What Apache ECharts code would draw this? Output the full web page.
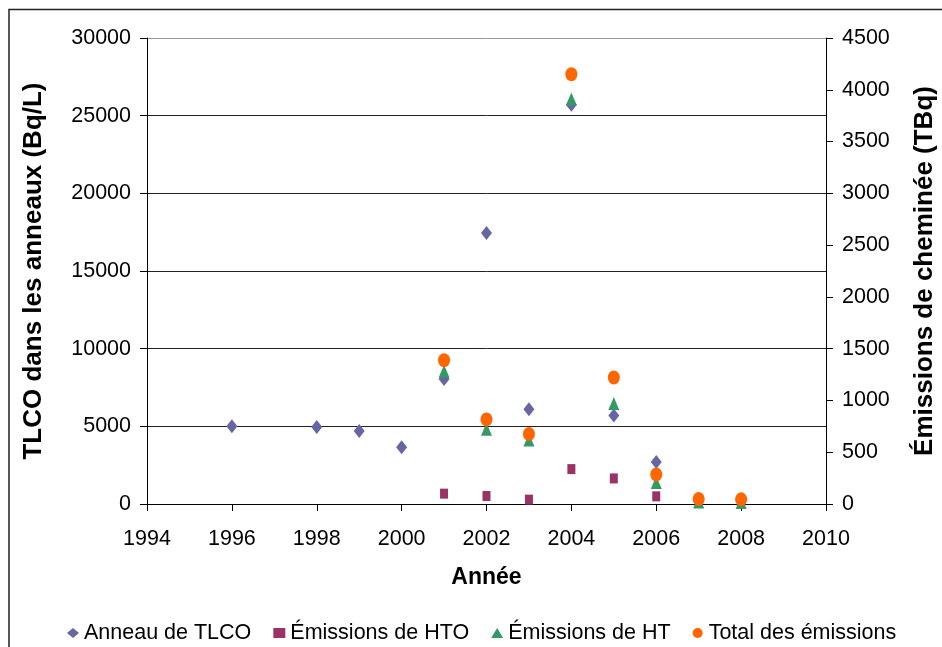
<!DOCTYPE html>
<html>
<head>
<meta charset="utf-8">
<script src="https://cdn.jsdelivr.net/npm/echarts@6/dist/echarts.min.js"></script>
<style>
html,body{margin:0;padding:0;background:#fff;}
#chart{width:942px;height:647px;}
</style>
</head>
<body>
<div id="chart"></div>
<script>
// TLCO ring measurements (left axis, Bq/L)
var tlcoYears = [1996, 1998, 1999, 2000, 2001, 2002, 2003, 2004, 2005, 2006];
var tlcoValues = [5000, 4950, 4700, 3650, 8050, 17450, 6100, 25700, 5700, 2700];
// Stack emissions (right axis, TBq)
var emYears = [2001, 2002, 2003, 2004, 2005, 2006, 2007, 2008];
var htoValues = [100, 77, 42, 337, 247, 74, 10, 6];
var htValues = [1282, 721, 619, 3910, 971, 208, 20, 15];
var totalValues = [1388, 817, 676, 4150, 1221, 285, 48, 45];
var seriesNames = ['Anneau de TLCO', 'Émissions de HTO', 'Émissions de HT', 'Total des émissions'];

function pairs(xs, ys) { return xs.map(function (x, i) { return [x, ys[i]]; }); }
function plain(v) { return String(v); }

var FONT = '"Liberation Sans", Arial, sans-serif';
var chart = echarts.init(document.getElementById('chart'));
chart.setOption({
  animation: false,
  backgroundColor: '#fff',
  textStyle: { fontFamily: FONT, color: '#000' },
  graphic: [{
    type: 'rect', z: -10, silent: true,
    shape: { x: 9, y: 9.5, width: 1000, height: 1000 },
    style: { fill: 'none', stroke: '#222', lineWidth: 1.5 }
  }],
  grid: { left: 147, right: 116, top: 38, bottom: 143, containLabel: false, outerBoundsMode: 'none' },
  legend: {
    top: 617, left: 62,
    itemWidth: 12, itemHeight: 10, itemGap: 22,
    textStyle: { fontFamily: FONT, fontSize: 21.5, color: '#000' },
    data: seriesNames
  },
  xAxis: {
    type: 'value', min: 1994, max: 2010, interval: 2,
    name: 'Année', nameLocation: 'middle', nameGap: 62,
    nameTextStyle: { fontFamily: FONT, fontSize: 23, fontWeight: 'bold', color: '#000' },
    axisLine: { show: true, onZero: false, lineStyle: { color: '#000', width: 1 } },
    axisTick: { show: true, length: 7, lineStyle: { color: '#000' } },
    axisLabel: { fontFamily: FONT, fontSize: 21.5, color: '#000', margin: 24, formatter: plain },
    splitLine: { show: false }
  },
  yAxis: [{
    type: 'value', min: 0, max: 30000, interval: 5000, position: 'left',
    name: 'TLCO dans les anneaux (Bq/L)', nameLocation: 'middle', nameGap: 100, nameRotate: 90,
    nameTextStyle: { fontFamily: FONT, fontSize: 26, fontWeight: 'bold', color: '#000' },
    axisLine: { show: true, lineStyle: { color: '#000', width: 1 } },
    axisTick: { show: true, length: 7, lineStyle: { color: '#000' } },
    axisLabel: { fontFamily: FONT, fontSize: 21.5, color: '#000', margin: 16, formatter: plain },
    splitLine: { show: true, lineStyle: { color: ['#000', '#222', '#222', '#222', '#222', '#222', '#999'], width: 1 } }
  }, {
    type: 'value', min: 0, max: 4500, interval: 500, position: 'right',
    name: 'Émissions de cheminée (TBq)', nameLocation: 'middle', nameGap: 86, nameRotate: 90,
    nameTextStyle: { fontFamily: FONT, fontSize: 26, fontWeight: 'bold', color: '#000' },
    axisLine: { show: true, lineStyle: { color: '#000', width: 1 } },
    axisTick: { show: true, length: 7, lineStyle: { color: '#000' } },
    axisLabel: { fontFamily: FONT, fontSize: 21.5, color: '#000', margin: 16, formatter: plain },
    splitLine: { show: false }
  }],
  series: [{
    name: seriesNames[0], type: 'scatter', yAxisIndex: 0, z: 2,
    symbol: 'diamond', symbolSize: [11, 14],
    itemStyle: { color: '#6666A3', opacity: 1 },
    data: pairs(tlcoYears, tlcoValues)
  }, {
    name: seriesNames[1], type: 'scatter', yAxisIndex: 1, z: 3,
    symbol: 'rect', symbolSize: [8, 10],
    itemStyle: { color: '#993366', opacity: 1 },
    data: pairs(emYears, htoValues)
  }, {
    name: seriesNames[2], type: 'scatter', yAxisIndex: 1, z: 4,
    symbol: 'triangle', symbolSize: [11, 13],
    itemStyle: { color: '#339966', opacity: 1 },
    data: pairs(emYears, htValues)
  }, {
    name: seriesNames[3], type: 'scatter', yAxisIndex: 1, z: 5,
    symbol: 'circle', symbolSize: [12, 14],
    itemStyle: { color: '#FF6600', opacity: 1 },
    data: pairs(emYears, totalValues)
  }]
});
</script>
</body>
</html>
